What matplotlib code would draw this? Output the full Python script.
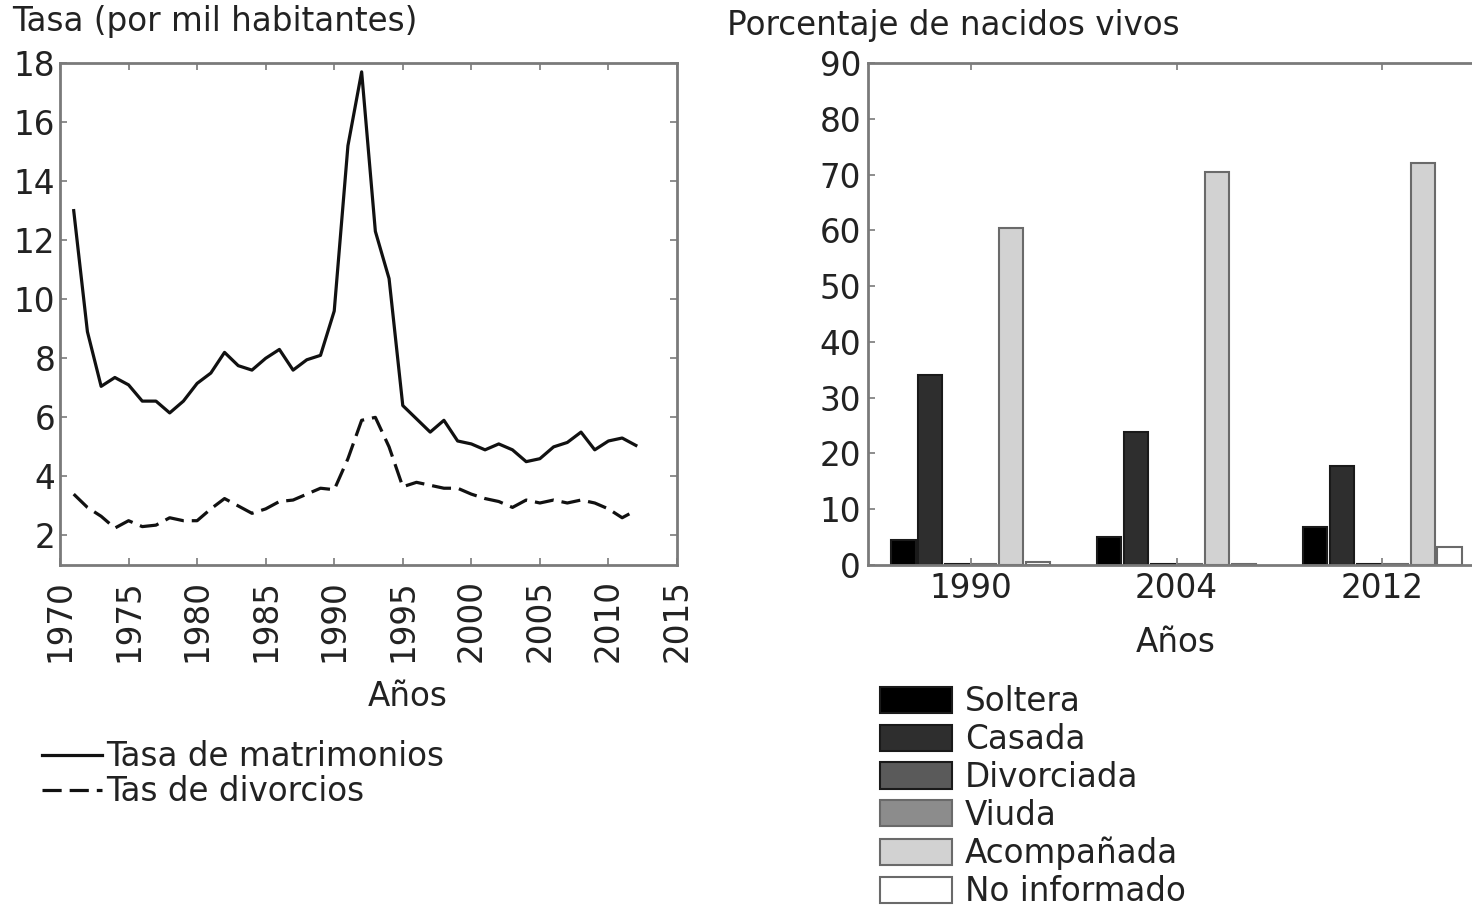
import matplotlib
matplotlib.use('Agg')
import matplotlib.pyplot as plt
import numpy as np

# Tasas anuales (por mil habitantes)
years = list(range(1971, 2013))
marriage_rate = [13.0, 8.9, 7.05, 7.35, 7.1, 6.55, 6.55, 6.15, 6.55, 7.15,
                 7.5, 8.2, 7.75, 7.6, 8.0, 8.3, 7.6, 7.95, 8.1, 9.6,
                 15.2, 17.7, 12.3, 10.7, 6.4, 5.95, 5.5, 5.9, 5.2, 5.1,
                 4.9, 5.1, 4.9, 4.5, 4.6, 5.0, 5.15, 5.5, 4.9, 5.2,
                 5.3, 5.05]
divorce_rate = [3.4, 2.95, 2.65, 2.25, 2.5, 2.3, 2.35, 2.6, 2.5, 2.5,
                2.9, 3.25, 3.0, 2.75, 2.9, 3.15, 3.2, 3.4, 3.6, 3.55,
                4.6, 5.9, 6.0, 5.0, 3.65, 3.8, 3.7, 3.6, 3.6, 3.4,
                3.25, 3.15, 2.95, 3.2, 3.1, 3.2, 3.1, 3.2, 3.1, 2.9,
                2.6, 2.85]

# Porcentaje de nacidos vivos por estado civil de la madre
census_years = ['1990', '2004', '2012']
civil_status = ['Soltera', 'Casada', 'Divorciada', 'Viuda', 'Acompañada', 'No informado']
birth_pct = {
    'Soltera': [4.5, 5.1, 6.9],
    'Casada': [34.0, 23.9, 17.8],
    'Divorciada': [0.2, 0.2, 0.2],
    'Viuda': [0.2, 0.2, 0.2],
    'Acompañada': [60.5, 70.5, 72.0],
    'No informado': [0.5, 0.2, 3.3],
}
bar_colors = ['#000000', '#2e2e2e', '#5a5a5a', '#8c8c8c', '#d2d2d2', '#ffffff']

FS = 23.5
plt.rcParams['font.family'] = ['DejaVu Sans']
plt.rcParams['font.size'] = FS

W, H = 1472, 906
fig = plt.figure(figsize=(W / 100, H / 100), dpi=100)

def px_box(x0, y0, x1, y1):
    return [x0 / W, 1 - y1 / H, (x1 - x0) / W, (y1 - y0) / H]

def fig_xy(x, y):
    return x / W, 1 - y / H

frame_col = '#7a7a7a'
text_col = '#222222'

# ---- Left panel: tasas
ax1 = fig.add_axes(px_box(60, 63, 677, 565))
ax1.plot(years, marriage_rate, color='#111111', lw=2.3, label='Tasa de matrimonios')
ax1.plot(years, divorce_rate, color='#111111', lw=2.3, dashes=(6, 2.5), label='Tas de divorcios')
ax1.set_xlim(1970, 2015)
ax1.set_ylim(1, 18)
ax1.set_xticks(range(1970, 2016, 5))
ax1.set_yticks(range(2, 19, 2))
ax1.tick_params(axis='x', rotation=90, pad=10)
ax1.tick_params(direction='in', length=5, width=1.2, color=frame_col,
                top=True, right=True, labelsize=FS, labelcolor=text_col)
for s in ax1.spines.values():
    s.set_color(frame_col)
    s.set_linewidth(2)
fig.text(*fig_xy(408, 697), 'Años', ha='center', va='center', fontsize=FS, color=text_col)
fig.text(*fig_xy(12, 22), 'Tasa (por mil habitantes)', ha='left', va='center', fontsize=FS, color=text_col)
leg1 = ax1.legend(loc='upper left', bbox_to_anchor=fig_xy(42, 740), bbox_transform=fig.transFigure,
                  frameon=False, handlelength=1.85, handletextpad=0.1, labelspacing=0.07,
                  borderpad=0, borderaxespad=0, fontsize=FS)
for t in leg1.get_texts():
    t.set_color(text_col)

# ---- Right panel: nacidos vivos
ax2 = fig.add_axes(px_box(868, 63, 1485, 565))
x = np.arange(len(census_years))
step = 0.131
width = 0.117
for i, (name, col) in enumerate(zip(civil_status, bar_colors)):
    offs = (i - 2.5) * step
    ax2.bar(x + offs, birth_pct[name], width=width, color=col,
            edgecolor='#6a6a6a' if i >= 3 else '#1a1a1a', linewidth=1.5, label=name)
ax2.set_xlim(-0.5, 2.5)
ax2.set_ylim(0, 90)
ax2.set_xticks(x)
ax2.set_xticklabels(census_years)
ax2.set_yticks(range(0, 91, 10))
ax2.tick_params(direction='in', length=5, width=1.2, color=frame_col,
                top=True, right=True, labelsize=FS, pad=5, labelcolor=text_col)
for s in ax2.spines.values():
    s.set_color(frame_col)
    s.set_linewidth(2)
fig.text(*fig_xy(1176, 642), 'Años', ha='center', va='center', fontsize=FS, color=text_col)
fig.text(*fig_xy(727, 25), 'Porcentaje de nacidos vivos', ha='left', va='center', fontsize=FS, color=text_col)
leg2 = ax2.legend(loc='upper left', bbox_to_anchor=fig_xy(880, 685), bbox_transform=fig.transFigure,
                  frameon=False, handlelength=2.2, handleheight=0.85, handletextpad=0.4,
                  labelspacing=0.15, borderpad=0, borderaxespad=0, fontsize=FS)
for t in leg2.get_texts():
    t.set_color(text_col)

fig.savefig('out.png', dpi=100)
